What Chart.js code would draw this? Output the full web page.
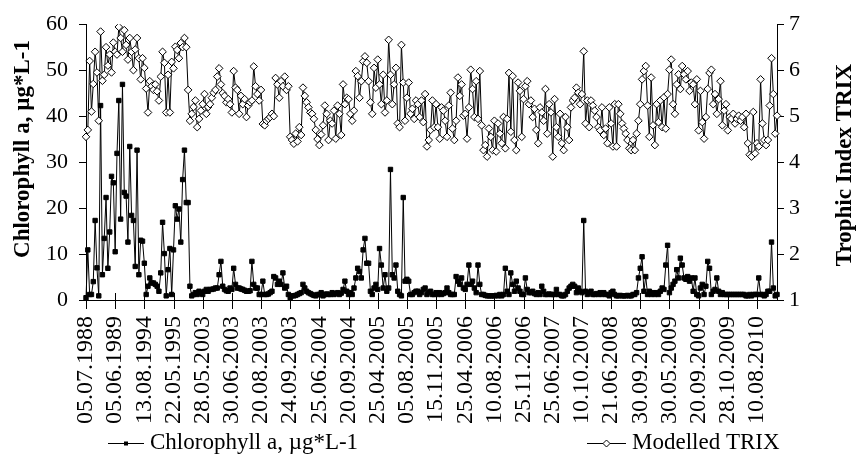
<!DOCTYPE html>
<html><head><meta charset="utf-8">
<script src="https://cdn.jsdelivr.net/npm/chart.js@4.4.1/dist/chart.umd.min.js"></script>
<style>html,body{margin:0;padding:0;background:#fff}#wrap{width:856px;height:459px;position:relative}</style>
</head><body>
<div id="wrap"><canvas id="c" width="856" height="459" style="width:856px;height:459px"></canvas></div>
<script>
const tickLabels = ['05.07.1988','05.06.1989','13.08.1994','22.05.1995','28.05.2003','30.06.2003','20.08.2003','24.09.2003','25.06.2004','20.09.2004','25.04.2005','05.08.2005','15.11.2005','25.04.2006','10.08.2006','25.11.2006','25.06.2007','10.10.2007','21.06.2008','30.09.2008','30.05.2009','20.09.2009','28.10.2009','10.08.2010'];
const pointsPerLabel = 16;
const seriesNames = ['Chlorophyll a, µg*L-1', 'Modelled TRIX'];
const leftTitle = 'Chlorophyll a, µg*L-1';
const rightTitle = 'Trophic Index TRIX';

const chlorophyll = [
 0.5,10.9,1.2,1.2,4,17.3,7,0.9,42.3,5.5,13.4,22.3,6.9,14.8,26.9,25.5,
 10.5,31.9,43.4,17.6,46.9,23.4,22.6,12.6,33.4,18.4,17.3,7.3,32.6,5.5,13,12.8,
 8,1.2,3,4.8,3.7,3.7,3.4,3,1.9,5.9,16.9,10.1,0.9,6.6,11.2,1.2,
 10.9,20.5,17.6,19.8,12.6,26.2,32.6,21.2,21.2,3,0.9,1.2,1.6,1.2,1.9,1.6,
 1.2,1.9,2.3,1.9,2.3,2.3,2.4,2.6,2.6,5.5,8.4,3,2.3,2.0,1.9,2.6,
 2.3,6.9,3.4,2.6,2.6,2.4,2.3,2.1,1.9,1.9,2.0,8.4,3.4,2.6,2.6,1.2,
 1.2,4.1,1.2,1.2,1.3,1.6,1.9,5.1,4.8,3.4,4.1,3.4,5.9,2.6,3.0,1.2,
 0.5,0.9,0.9,1.0,1.2,1.4,1.6,3.4,2.6,1.9,1.6,1.4,1.2,1.0,0.9,1.2,
 1.2,1.6,0.9,1.2,1.3,1.2,1.2,1.6,1.2,1.4,1.6,1.2,1.5,2.3,4.1,1.9,
 1.2,1.6,1.2,2.6,4.8,6.9,6.2,4.8,10.9,13.4,8,8,1.9,1.2,2.6,3.4,
 2.3,11.2,7.6,2.6,5.5,1.9,2.6,28.4,5.5,4.8,7.6,1.9,1.2,0.9,22.3,4.1,
 4.5,4.1,1.2,1.2,1.6,1.9,1.9,1.2,1.6,2.3,2.6,1.2,1.6,1.9,1.2,1.2,
 1.6,1.2,1.6,1.2,1.4,1.6,2.6,1.6,1.2,1.2,1.2,5.1,4.1,3.4,4.8,2.6,
 2.3,3.4,7.6,3.4,4.1,2.6,1.6,7.6,3.4,1.2,1.2,1.0,0.9,0.9,0.9,0.9,
 0.9,1.0,0.9,1.2,0.9,1.2,6.9,1.9,1.2,5.9,3.4,1.9,4.1,2.6,1.9,1.2,
 1.2,4.8,2.3,1.6,1.6,1.9,1.4,1.2,1.6,1.2,3,1.9,1.2,1.2,1.3,1.2,
 1.2,1.2,2.3,1.2,1.2,0.9,0.9,1.2,1.9,2.6,3.0,3.4,3.0,1.6,2.6,1.9,
 1.6,17.3,1.9,1.2,1.6,1.9,1.2,1.2,1.4,1.2,1.6,1.2,1.6,1.2,1.2,0.9,
 1.6,1.9,1.2,0.9,0.9,1.0,0.9,0.9,0.9,1.0,0.9,0.9,1.2,1.2,1.6,4.8,
 6.9,9.4,1.9,5.1,1.2,1.9,1.2,1.6,1.2,1.6,1.2,1.9,2.6,2.3,7.6,11.9,
 1.6,2.6,3.4,4.1,6.6,4.8,9.1,7.6,4.8,4.5,5.1,4.1,4.8,1.9,4.8,1.2,
 0.9,2.6,3.4,1.2,3,8.4,6.9,1.2,1.9,2.3,4.8,1.9,1.2,1.6,1.2,1.2,
 1.2,1.2,1.2,1.2,1.2,1.2,1.2,1.2,1.2,1.2,0.9,0.9,1.2,0.9,1.2,1.2,
 1.2,4.8,1.2,1.2,0.9,1.2,1.9,1.9,12.6,2.6,0.9,1.2
];

const trix = [
 4.55,4.7,6.2,5.1,5.7,6.4,5.95,4.9,6.84,5.77,5.9,6.5,6.1,6.34,5.95,6.6,
 6.4,6.34,6.94,6.7,6.4,6.87,6.55,6.23,6.7,6.4,6.0,6.45,6.7,6.26,5.8,6.26,
 6.05,5.6,5.08,5.76,5.65,5.57,5.69,5.54,5.34,5.86,6.4,6.16,5.08,5.9,5.08,6.18,
 6.04,6.51,6.44,6.26,6.59,6.5,6.7,6.5,5.57,4.9,5.05,5.2,5.34,4.76,4.94,5.12,
 5.26,5.48,5.05,5.2,5.26,5.4,5.51,5.57,5.86,6.04,5.69,5.5,5.44,5.3,5.37,5.26,
 5.08,5.98,5.62,5.57,5.05,5.44,5.26,5.37,4.98,5.23,5.3,5.34,6.08,5.65,5.48,5.34,
 5.57,4.83,4.8,4.9,4.94,4.98,5.05,5.0,5.83,5.69,5.4,5.76,5.65,5.86,5.57,5.65,
 4.55,4.48,4.4,4.62,4.45,4.76,4.59,5.62,5.44,5.3,5.19,5.08,5.05,4.94,4.7,4.5,
 4.37,4.6,4.8,5.23,5.05,4.48,4.9,4.84,5.12,4.51,5.23,5.05,4.59,5.69,5.26,5.4,
 5.37,5.05,4.9,5.12,5.98,5.87,5.4,5.76,6.19,6.3,6.16,5.76,5.3,5.05,6.05,5.62,
 6.23,5.69,5.26,5.9,5.08,5.34,6.66,5.9,5.26,5.69,6.05,4.84,4.76,6.55,5.73,4.9,
 5.4,5.73,5.05,5.16,4.94,5.34,5.26,4.98,5.34,4.87,5.48,4.34,4.48,4.7,5.34,4.76,
 5.26,4.76,4.51,5.19,5.12,4.9,4.55,5.23,5.51,4.73,4.48,4.9,5.84,5.44,5.69,5.01,
 5.05,4.51,5.19,6.01,5.59,4.98,5.76,4.94,5.98,4.8,4.26,4.37,4.12,4.73,4.55,4.26,
 4.9,4.23,4.84,4.62,4.41,4.98,4.3,4.94,5.94,4.66,5.87,4.48,4.26,5.73,5.55,4.55,
 5.37,5.65,5.76,5.26,5.34,4.98,5.16,4.7,4.41,5.19,5.08,4.9,5.59,4.62,5.26,5.08,
 4.12,5.37,4.76,4.55,5.05,4.41,4.26,4.98,4.76,4.48,5.19,5.34,5.4,5.62,5.51,5.26,
 5.48,6.41,4.84,5.34,4.76,5.34,5.23,5.12,4.98,4.76,4.69,5.19,4.59,4.73,4.41,5.19,
 4.84,4.34,5.26,4.34,5.26,5.05,4.84,4.73,4.62,4.48,4.3,4.26,4.48,4.26,4.62,4.9,
 5.26,5.8,5.98,6.09,5.23,4.55,5.84,4.8,4.37,5.26,4.87,5.34,4.76,5.41,4.73,5.48,
 6.01,6.23,5.26,5.05,5.69,5.91,5.59,6.09,5.91,5.8,5.98,5.55,5.73,5.69,5.26,5.8,
 4.69,5.55,4.87,4.51,4.98,5.59,5.94,6.01,5.26,5.48,5.05,5.37,5.76,4.8,5.12,5.26,
 4.69,4.98,4.94,5.05,4.84,4.94,5.01,4.9,4.98,4.76,5.05,4.41,4.16,4.12,5.09,4.19,
 4.41,4.34,5.8,4.84,4.48,4.37,4.48,5.23,6.26,5.48,4.62,5.01
];

const leftAxis = {min: 0, max: 60, step: 10};
const rightAxis = {min: 1, max: 7, step: 1};

const categories = chlorophyll.map((_, i) => (i % pointsPerLabel === 0 ? tickLabels[i / pointsPerLabel] : ''));

const FONT = "'Liberation Serif', 'Times New Roman', serif";

function drawSquare(ctx, x, y, s) {
  ctx.fillStyle = '#000';
  ctx.fillRect(x - s / 2, y - s / 2, s, s);
}
function drawDiamond(ctx, x, y, r) {
  ctx.beginPath();
  ctx.moveTo(x, y - r); ctx.lineTo(x + r, y); ctx.lineTo(x, y + r); ctx.lineTo(x - r, y); ctx.closePath();
  ctx.fillStyle = '#fff'; ctx.fill();
  ctx.strokeStyle = '#000'; ctx.lineWidth = 1; ctx.stroke();
}

const extras = {
  id: 'extras',
  afterDraw(chart) {
    const {ctx, chartArea, scales} = chart;
    ctx.save();
    ctx.strokeStyle = '#000';
    ctx.lineWidth = 1;
    const xs = scales.x;
    categories.forEach((c, i) => {
      if (!c) return;
      const px = Math.round(xs.getPixelForValue(i)) + 0.5;
      ctx.beginPath();
      ctx.moveTo(px, chartArea.bottom - 7);
      ctx.lineTo(px, chartArea.bottom + 9);
      ctx.stroke();
    });
    ctx.fillStyle = '#000';
    ctx.font = 'bold 23px ' + FONT;
    ctx.textAlign = 'center';
    ctx.textBaseline = 'middle';
    ctx.save(); ctx.translate(23, 149); ctx.rotate(-Math.PI / 2); ctx.fillText(leftTitle, 0, 0); ctx.restore();
    ctx.save(); ctx.translate(845, 165); ctx.rotate(-Math.PI / 2); ctx.fillText(rightTitle, 0, 0); ctx.restore();

    const ly = 443;
    ctx.font = '23px ' + FONT;
    ctx.textAlign = 'left';
    ctx.strokeStyle = '#000';
    ctx.beginPath(); ctx.moveTo(108, ly + 0.5); ctx.lineTo(144, ly + 0.5); ctx.stroke();
    drawSquare(ctx, 126, ly + 0.5, 4);
    ctx.fillStyle = '#000';
    ctx.fillText(seriesNames[0], 150, ly);
    ctx.beginPath(); ctx.moveTo(587, ly + 0.5); ctx.lineTo(626, ly + 0.5); ctx.stroke();
    drawDiamond(ctx, 606.5, ly + 0.5, 3.5);
    ctx.fillStyle = '#000';
    ctx.fillText(seriesNames[1], 632, ly);
    ctx.restore();
  }
};

function build() {
  new Chart(document.getElementById('c'), {
    type: 'line',
    data: {
      labels: categories,
      datasets: [
        {label: seriesNames[0], data: chlorophyll, yAxisID: 'y', borderColor: '#000', borderWidth: 1,
         pointStyle: 'rect', pointRadius: 3.1, pointBackgroundColor: '#000', pointBorderColor: '#000', pointBorderWidth: 1,
         tension: 0, order: 2},
        {label: seriesNames[1], data: trix, yAxisID: 'y2', borderColor: '#000', borderWidth: 1,
         pointStyle: 'rectRot', pointRadius: 3.8, pointBackgroundColor: '#fff', pointBorderColor: '#000', pointBorderWidth: 1,
         tension: 0, order: 1}
      ]
    },
    options: {
      responsive: false,
      animation: false,
      events: [],
      layout: {padding: {top: 17, left: 0, right: 0, bottom: 0}},
      plugins: {legend: {display: false}, tooltip: {enabled: false}},
      scales: {
        x: {
          type: 'category', offset: false,
          grid: {display: false},
          border: {display: true, color: '#000', width: 1},
          ticks: {autoSkip: false, maxRotation: 90, minRotation: 90, padding: 8, color: '#000',
                  font: {family: FONT, size: 24}, callback: (v, i) => categories[i]},
          afterFit: s => { s.height = 159; }
        },
        y: {
          position: 'left', min: leftAxis.min, max: leftAxis.max,
          ticks: {stepSize: leftAxis.step, padding: 11, color: '#000', font: {family: FONT, size: 22}},
          grid: {drawOnChartArea: false, tickLength: 7, color: '#000'},
          border: {display: true, color: '#000', width: 1},
          afterFit: s => { s.width = 86; }
        },
        y2: {
          position: 'right', min: rightAxis.min, max: rightAxis.max,
          ticks: {stepSize: rightAxis.step, padding: 5, color: '#000', font: {family: FONT, size: 22}},
          grid: {drawOnChartArea: false, tickLength: 7, color: '#000'},
          border: {display: true, color: '#000', width: 1},
          afterFit: s => { s.width = 79; }
        }
      }
    },
    plugins: [extras]
  });
}

Promise.race([
  Promise.all([document.fonts.load("23px 'Liberation Serif'"), document.fonts.load("bold 23px 'Liberation Serif'")]),
  new Promise(r => setTimeout(r, 1500))
]).then(build, build);
</script>
</body></html>
